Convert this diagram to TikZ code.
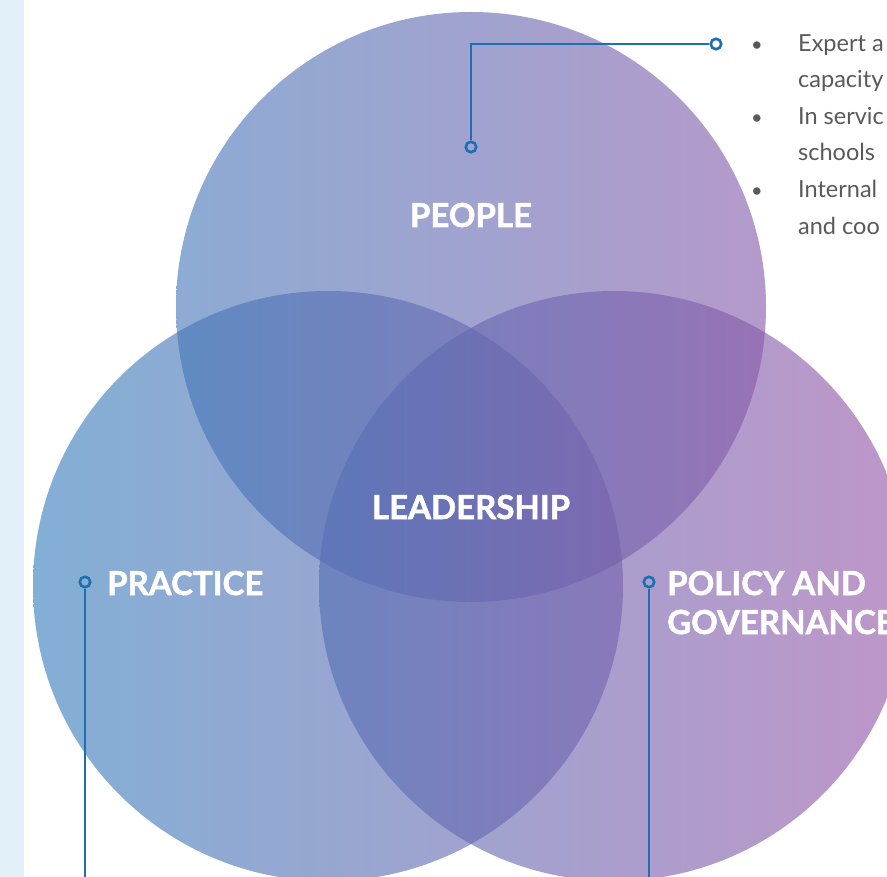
\documentclass[tikz,border=0pt]{standalone}
\usepackage{fontspec}
\setmainfont{Lato}
\newfontfamily\headfont{Lato}[BoldFeatures={FakeBold=1.6}]
\definecolor{stripbg}{RGB}{226,240,250}
\definecolor{cLeft}{RGB}{52,125,188}
\definecolor{cRight}{RGB}{150,84,166}
\definecolor{linkblue}{RGB}{30,110,180}
\definecolor{bodygrey}{RGB}{90,90,90}
\begin{document}
\begin{tikzpicture}[x=1pt,y=-1pt,
  marker/.style={circle,draw=linkblue,line width=2.6pt,inner sep=0pt,minimum size=10.5pt},
  link/.style={draw=linkblue,line width=2.7pt},
  headlabel/.style={text=white,font=\headfont\bfseries\fontsize{33}{36}\selectfont,inner sep=0pt},
  bodytext/.style={text=bodygrey,font=\fontsize{23.5}{27}\selectfont,anchor=base west,inner sep=0pt},
  bulletdot/.style={text=bodygrey,font=\fontsize{20}{24}\selectfont,anchor=base,inner sep=0pt}]
\useasboundingbox (0,0) rectangle (887,877);
\clip (0,0) rectangle (887,877);
\fill[white] (0,0) rectangle (887,877);
\fill[stripbg] (0,0) rectangle (24,877);
% circle centres
\coordinate (cPeople) at (471,307);
\coordinate (cPractice) at (328,586);
\coordinate (cPolicy) at (614,586);
\foreach \c in {cPeople,cPractice,cPolicy}{
  \begin{scope}
    \clip (\c) circle[radius=295pt];
    \shade[fill opacity=0.61,left color=cLeft,right color=cRight] (33,0) rectangle (909,877);
  \end{scope}
}
% labels
\node[headlabel,anchor=base] (people) at (471,227) {PEOPLE};
\node[headlabel,anchor=base] (leader) at (471,519) {LEADERSHIP};
\node[headlabel,anchor=base west] (practice) at (107,595) {PRACTICE};
\node[headlabel,anchor=base west] (policy) at (667,595) {POLICY AND};
\node[headlabel,anchor=base west] (govern) at (667,634) {GOVERNANCE};
% markers and connectors
\node[marker] (mPeople) at (471,147) {};
\node[marker] (mBullets) at (716,44) {};
\node[marker] (mPractice) at (85,582) {};
\node[marker] (mPolicy) at (649,582) {};
\coordinate (pCorner) at (471,44);
\coordinate (pPracticeEnd) at (85,880);
\coordinate (pPolicyEnd) at (649,880);
\draw[link] (mPeople.north) -- (pCorner) -- (mBullets.west);
\draw[link] (mPractice.south) -- (pPracticeEnd);
\draw[link] (mPolicy.south) -- (pPolicyEnd);
% bullet text
\node[bulletdot] (b1) at (757,52) {•};
\node[bulletdot] (b2) at (757,125) {•};
\node[bulletdot] (b3) at (757,198) {•};
\node[bodytext] (t1) at (798,52) {Expert a};
\node[bodytext] (t2) at (798,88) {capacity};
\node[bodytext] (t3) at (798,125) {In servic};
\node[bodytext] (t4) at (798,161) {schools};
\node[bodytext] (t5) at (798,198) {Internal};
\node[bodytext] (t6) at (798,235) {and coo};
\end{tikzpicture}
\end{document}
